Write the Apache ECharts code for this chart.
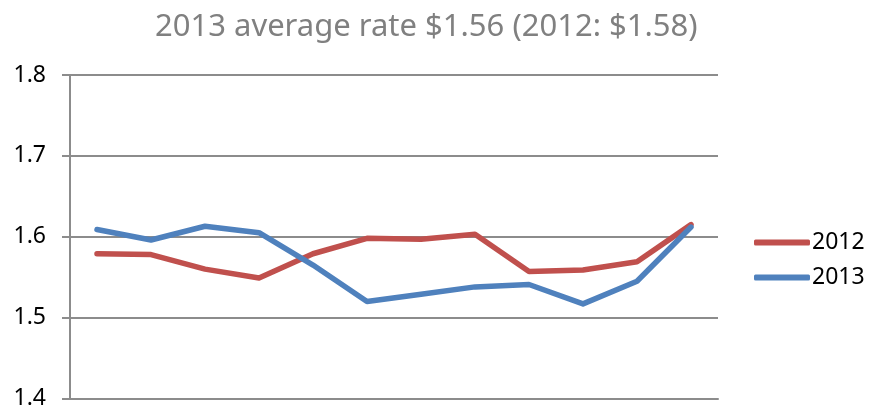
<!DOCTYPE html>
<html>
<head>
<meta charset="utf-8">
<script src="https://cdn.jsdelivr.net/npm/echarts@6/dist/echarts.min.js"></script>
<style>
  html, body { margin: 0; padding: 0; background: #fff; }
  #chart { width: 871px; height: 410px; }
</style>
</head>
<body>
<div id="chart"></div>
<script>
// months, no labels shown on the axis
var months = ['Jan', 'Feb', 'Mar', 'Apr', 'May', 'Jun', 'Jul', 'Aug', 'Sep', 'Oct', 'Nov', 'Dec']
var rate2012 = [1.579, 1.578, 1.560, 1.549, 1.579, 1.598, 1.597, 1.603, 1.557, 1.559, 1.569, 1.615]
var rate2013 = [1.609, 1.596, 1.613, 1.605, 1.565, 1.520, 1.529, 1.538, 1.541, 1.517, 1.545, 1.612]

var chart = echarts.init(document.getElementById('chart'))
chart.setOption({
  animation: false,
  title: {
    text: '2013 average rate $1.56 (2012: $1.58)',
    left: 150,
    top: 7,
    textStyle: {
      color: '#808080',
      fontSize: 31,
      fontWeight: 'normal',
      fontFamily: 'Noto Sans'
    }
  },
  legend: {
    orient: 'vertical',
    left: 749,
    top: 226,
    itemWidth: 56,
    itemHeight: 6,
    itemGap: 12,
    icon: 'roundRect',
    data: ['2012', '2013'],
    textStyle: {
      color: '#000',
      fontSize: 23,
      fontFamily: 'Noto Sans',
      padding: [0, 0, 0, -3]
    }
  },
  grid: {
    left: 70,
    right: 153,
    top: 75,
    bottom: 10
  },
  xAxis: {
    type: 'category',
    data: months,
    boundaryGap: true,
    axisLine: { lineStyle: { color: '#8c8c8c', width: 2 } },
    axisTick: { show: false },
    axisLabel: { show: false }
  },
  yAxis: {
    type: 'value',
    min: 1.4,
    max: 1.8,
    interval: 0.1,
    axisLine: { show: true, lineStyle: { color: '#8c8c8c', width: 2 } },
    axisTick: { show: true, length: 8, lineStyle: { color: '#8c8c8c', width: 2 } },
    splitLine: { lineStyle: { color: '#8c8c8c', width: 2 } },
    axisLabel: {
      margin: 24,
      color: '#000',
      fontSize: 23,
      fontFamily: 'Noto Sans',
      formatter: function (v) { return v.toFixed(1) }
    }
  },
  series: [
    {
      name: '2012',
      type: 'line',
      data: rate2012,
      showSymbol: false,
      symbol: 'none',
      itemStyle: { color: '#c0504d' },
      lineStyle: { color: '#c0504d', width: 5.5, cap: 'round', join: 'round' }
    },
    {
      name: '2013',
      type: 'line',
      data: rate2013,
      showSymbol: false,
      symbol: 'none',
      itemStyle: { color: '#4f81bd' },
      lineStyle: { color: '#4f81bd', width: 5.5, cap: 'round', join: 'round' }
    }
  ]
})
</script>
</body>
</html>
